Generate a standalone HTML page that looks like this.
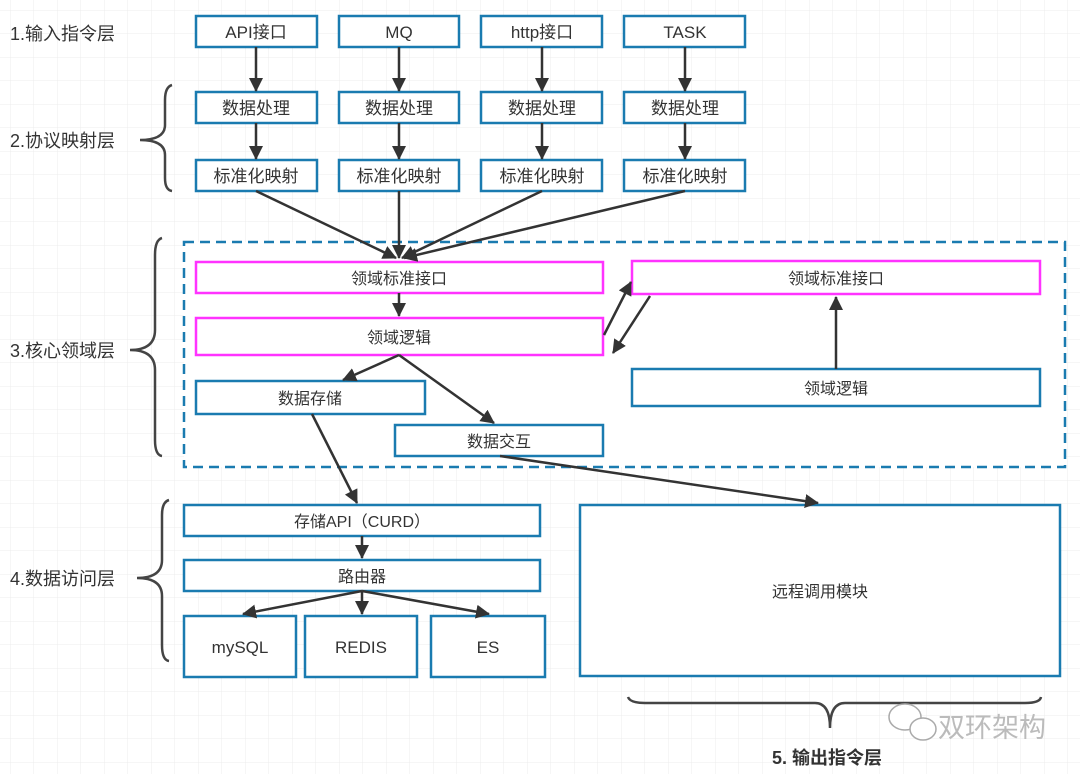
<!DOCTYPE html>
<html><head><meta charset="utf-8"><style>
html,body{margin:0;padding:0;background:#fff;}
svg text{font-family:"Liberation Sans","Noto Sans CJK SC",sans-serif;fill:#333;}
</style></head><body>
<svg width="1080" height="774" viewBox="0 0 1080 774" xmlns="http://www.w3.org/2000/svg">
<defs>
<pattern id="g" x="10" y="10" width="23.5" height="23.5" patternUnits="userSpaceOnUse">
<path d="M0 0H23.5M0 0V23.5" stroke="#ececec" stroke-width="1" fill="none"/>
</pattern>
<marker id="a" markerWidth="10" markerHeight="10" refX="9" refY="5" orient="auto" markerUnits="userSpaceOnUse" viewBox="0 0 10 10">
<path d="M0 0L10 5L0 10z" fill="#333"/>
</marker>
<marker id="A" markerWidth="14" markerHeight="14" refX="13" refY="7" orient="auto" markerUnits="userSpaceOnUse" viewBox="0 0 14 14">
<path d="M0 0L14 7L0 14z" fill="#333"/>
</marker>
</defs>
<rect width="1080" height="774" fill="url(#g)"/>
<g fill="#fff" stroke="#1a7bb0" stroke-width="2.5">
<rect x="196" y="16" width="121" height="31"/><rect x="339" y="16" width="120" height="31"/>
<rect x="481" y="16" width="121" height="31"/><rect x="624" y="16" width="121" height="31"/>
<rect x="196" y="92" width="121" height="31"/><rect x="339" y="92" width="120" height="31"/>
<rect x="481" y="92" width="121" height="31"/><rect x="624" y="92" width="121" height="31"/>
<rect x="196" y="160" width="121" height="31"/><rect x="339" y="160" width="120" height="31"/>
<rect x="481" y="160" width="121" height="31"/><rect x="624" y="160" width="121" height="31"/>
</g>
<rect x="184" y="242" width="881" height="225" fill="#fff" stroke="#1a7bb0" stroke-width="2.5" stroke-dasharray="10,6"/>
<g fill="#fff" stroke="#ff33ff" stroke-width="2.5">
<rect x="196" y="262" width="407" height="31"/><rect x="196" y="318" width="407" height="37"/>
<rect x="632" y="261" width="408" height="33"/>
</g>
<g fill="#fff" stroke="#1a7bb0" stroke-width="2.5">
<rect x="632" y="369" width="408" height="37"/>
<rect x="196" y="381" width="229" height="33"/><rect x="395" y="425" width="208" height="31"/>
<rect x="184" y="505" width="356" height="31"/><rect x="184" y="560" width="356" height="31"/>
<rect x="184" y="616" width="112" height="61"/><rect x="305" y="616" width="112" height="61"/>
<rect x="431" y="616" width="114" height="61"/>
<rect x="580" y="505" width="480" height="171"/>
</g>
<g stroke="#333" stroke-width="2.5" fill="none" marker-end="url(#A)">
<path d="M256 47V91"/><path d="M399 47V91"/><path d="M542 47V91"/><path d="M685 47V91"/>
<path d="M256 123V159"/><path d="M399 123V159"/><path d="M542 123V159"/><path d="M685 123V159"/>
<path d="M256 191L396 258"/><path d="M399 191V258"/><path d="M542 191L402 258"/><path d="M685 191L404 258"/>
<path d="M399 293V316"/>
<path d="M399 355L343 380"/><path d="M399 355L494 423"/>
<path d="M312 414L357 503"/><path d="M500 456L818 503"/>
<path d="M362 536V558"/>
<path d="M362 591L243 614"/><path d="M362 591V614"/><path d="M362 591L489 614"/>
<path d="M604 335L631 282"/><path d="M650 296L613 353"/>
<path d="M836 369V297"/>
</g>
<g stroke="#444" stroke-width="2.5" fill="none">
<path d="M172 85Q165 87 165 100V125Q165 140 140 140Q165 140 165 155V178Q165 190 172 191"/>
<path d="M162 238Q155 240 155 255V330Q155 350 130 350Q155 350 155 370V440Q155 455 162 456"/>
<path d="M169 500Q162 502 162 515V560Q162 578 137 578Q162 578 162 596V645Q162 660 169 661"/>
<path d="M628 697Q630 703 645 703H815Q830 703 830 728Q830 703 845 703H1025Q1040 703 1041 697"/>
</g>
<g font-size="17" text-anchor="middle">
<text x="256" y="38">API接口</text><text x="399" y="38">MQ</text><text x="542" y="38">http接口</text><text x="685" y="38">TASK</text>
<text x="256" y="114">数据处理</text><text x="399" y="114">数据处理</text><text x="542" y="114">数据处理</text><text x="685" y="114">数据处理</text>
<text x="256" y="182">标准化映射</text><text x="399" y="182">标准化映射</text><text x="542" y="182">标准化映射</text><text x="685" y="182">标准化映射</text>
</g>
<g font-size="16" text-anchor="middle">
<text x="399" y="284">领域标准接口</text><text x="399" y="343">领域逻辑</text>
<text x="836" y="284">领域标准接口</text><text x="836" y="394">领域逻辑</text>
<text x="310" y="404">数据存储</text><text x="499" y="447">数据交互</text>
<text x="362" y="527">存储API（CURD）</text><text x="362" y="582">路由器</text>
<text x="240" y="653" font-size="17">mySQL</text><text x="361" y="653" font-size="17">REDIS</text><text x="488" y="653" font-size="17">ES</text>
<text x="820" y="597">远程调用模块</text>
</g>
<g font-size="18">
<text x="10" y="40">1.输入指令层</text><text x="10" y="147">2.协议映射层</text>
<text x="10" y="357">3.核心领域层</text><text x="10" y="585">4.数据访问层</text>
<text x="772" y="764" font-weight="bold">5. 输出指令层</text>
</g>
<g fill="none" stroke="#aaa" stroke-width="1.5">
<ellipse cx="905" cy="717" rx="16" ry="13" fill="#fff"/><ellipse cx="923" cy="729" rx="13" ry="11" fill="#fff"/>
</g>
<text x="938" y="737" font-size="27" fill="#bbb" style="fill:#bbb">双环架构</text>
</svg>
</body></html>
